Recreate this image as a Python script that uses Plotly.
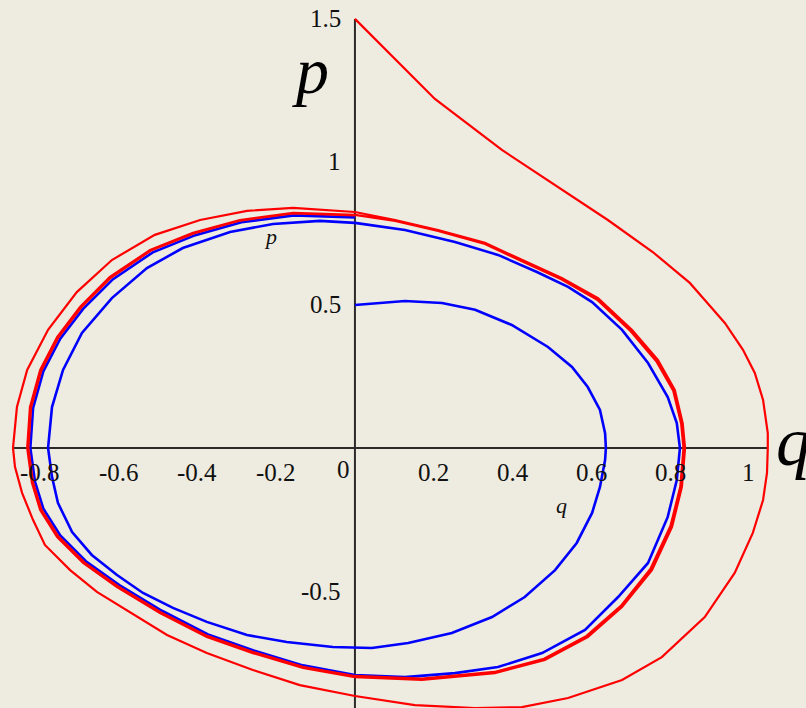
import plotly.graph_objects as go

# Phase-plane trajectories (q, p) of a self-excited oscillator.
# Red trajectory starts outside the limit cycle at (0, 1.5); blue starts inside at (0, 0.5).
red_q = [0.0, 0.203, 0.373, 0.525, 0.642, 0.756, 0.850, 0.888, 0.939, 0.985, 1.015, 1.036, 1.048, 1.048,
         1.046, 1.036, 1.010, 0.964, 0.888, 0.779, 0.678, 0.541, 0.424, 0.305, 0.152, 0.0,
         -0.140, -0.259, -0.376, -0.477, -0.579, -0.655, -0.723, -0.787, -0.817, -0.845, -0.863, -0.868,
         -0.858, -0.832, -0.779, -0.706, -0.617, -0.508, -0.393, -0.274, -0.157, 0.0,
         # second turn
         0.102, 0.211, 0.330, 0.439, 0.525, 0.617, 0.703, 0.769, 0.812, 0.832, 0.838,
         0.830, 0.805, 0.754, 0.678, 0.591, 0.482, 0.355, 0.170, 0.0,
         -0.132, -0.259, -0.376, -0.495, -0.604, -0.690, -0.756, -0.799, -0.820, -0.832,
         -0.825, -0.799, -0.756, -0.698, -0.622, -0.520, -0.411, -0.292, -0.157, 0.0,
         # third turn, settling on the limit cycle
         0.102, 0.211, 0.330, 0.439, 0.525, 0.615, 0.700, 0.765, 0.808, 0.828, 0.834,
         0.826, 0.801, 0.750, 0.675, 0.588, 0.480, 0.354, 0.170, 0.0,
         -0.132, -0.258, -0.375, -0.493, -0.602, -0.687, -0.753, -0.796, -0.817, -0.829,
         -0.822, -0.796, -0.753, -0.695, -0.619, -0.518, -0.409, -0.291, -0.157, 0.0]
red_p = [1.5, 1.220, 1.042, 0.902, 0.797, 0.685, 0.577, 0.517, 0.437, 0.343, 0.262, 0.168, 0.052, 0.0,
         -0.087, -0.182, -0.297, -0.437, -0.591, -0.731, -0.811, -0.874, -0.906, -0.909, -0.899, -0.867,
         -0.829, -0.776, -0.717, -0.654, -0.566, -0.503, -0.427, -0.339, -0.252, -0.157, -0.066, 0.0,
         0.143, 0.273, 0.413, 0.545, 0.657, 0.745, 0.797, 0.829, 0.839, 0.825,
         0.797, 0.762, 0.717, 0.647, 0.594, 0.524, 0.413, 0.308, 0.203, 0.087, 0.0,
         -0.136, -0.276, -0.427, -0.556, -0.661, -0.741, -0.787, -0.811, -0.801,
         -0.769, -0.717, -0.661, -0.577, -0.486, -0.402, -0.311, -0.217, -0.122, 0.0,
         0.143, 0.273, 0.388, 0.493, 0.598, 0.692, 0.752, 0.797, 0.822, 0.815,
         0.794, 0.759, 0.713, 0.643, 0.589, 0.518, 0.408, 0.303, 0.200, 0.086, 0.0,
         -0.135, -0.273, -0.423, -0.552, -0.657, -0.737, -0.783, -0.806, -0.797,
         -0.765, -0.713, -0.657, -0.574, -0.483, -0.400, -0.309, -0.215, -0.121, 0.0,
         0.142, 0.271, 0.386, 0.491, 0.596, 0.690, 0.750, 0.795, 0.820, 0.813]

blue_q = [0.0, 0.127, 0.221, 0.305, 0.398, 0.490, 0.551, 0.591, 0.622, 0.635, 0.637,
          0.635, 0.622, 0.602, 0.563, 0.508, 0.431, 0.348, 0.246, 0.135, 0.043,
          -0.056, -0.173, -0.274, -0.376, -0.462, -0.538, -0.604, -0.668, -0.718, -0.754, -0.769, -0.779,
          -0.769, -0.741, -0.693, -0.617, -0.528, -0.437, -0.317, -0.208, -0.089, 0.0,
          # second turn
          0.127, 0.254, 0.363, 0.462, 0.541, 0.602, 0.678, 0.744, 0.794, 0.817, 0.825,
          0.817, 0.794, 0.744, 0.668, 0.584, 0.475, 0.363, 0.254, 0.127, 0.0,
          -0.132, -0.257, -0.373, -0.490, -0.598, -0.683, -0.748, -0.791, -0.812, -0.824,
          -0.817, -0.791, -0.748, -0.690, -0.614, -0.513, -0.405, -0.288, -0.155, 0.0]
blue_p = [0.5, 0.514, 0.507, 0.483, 0.430, 0.353, 0.283, 0.213, 0.133, 0.052, 0.0,
          -0.042, -0.136, -0.227, -0.332, -0.427, -0.521, -0.591, -0.647, -0.682, -0.699,
          -0.696, -0.678, -0.654, -0.608, -0.559, -0.507, -0.444, -0.374, -0.294, -0.192, -0.101, 0.0,
          0.143, 0.273, 0.402, 0.524, 0.629, 0.699, 0.755, 0.783, 0.794, 0.787,
          0.762, 0.720, 0.675, 0.615, 0.563, 0.510, 0.413, 0.297, 0.178, 0.087, 0.0,
          -0.112, -0.241, -0.402, -0.521, -0.636, -0.717, -0.766, -0.787, -0.801, -0.794,
          -0.760, -0.708, -0.652, -0.569, -0.479, -0.396, -0.306, -0.212, -0.119, 0.0,
          0.140, 0.268, 0.382, 0.486, 0.590, 0.684, 0.744, 0.789, 0.813, 0.806]

x_ticks = [-0.8, -0.6, -0.4, -0.2, 0.2, 0.4, 0.6, 0.8, 1]
x_tick_text = ["-0.8", "-0.6", "-0.4", "-0.2", "0.2", "0.4", "0.6", "0.8", "1"]
y_ticks = [1.5, 1, 0.5, -0.5]
y_tick_text = ["1.5", "1", "0.5", "-0.5"]

BG = "#EEEBE0"
SERIF = "Liberation Serif"
TICK_FONT = dict(family=SERIF, size=25, color="#111111")
X_RANGE = [-0.901, 1.145]
Y_RANGE = [-0.909, 1.566]

fig = go.Figure()
fig.add_trace(go.Scatter(x=blue_q, y=blue_p, mode="lines",
                         line=dict(color="#0000FF", width=2.6), hoverinfo="skip"))
fig.add_trace(go.Scatter(x=red_q, y=red_p, mode="lines",
                         line=dict(color="#FF0000", width=2.2), hoverinfo="skip"))

# Axes crossing at the origin, spanning the extent of the trajectories
q_all = red_q + blue_q
p_all = red_p + blue_p
axis_line = dict(color="#2A2A2A", width=2)
shapes = [
    dict(type="line", xref="x", yref="y", x0=min(q_all), x1=max(q_all), y0=0, y1=0,
         line=axis_line, layer="below"),
    dict(type="line", xref="x", yref="y", x0=0, x1=0, y0=Y_RANGE[0], y1=max(p_all),
         line=axis_line, layer="below"),
]

annotations = []
for v, t in zip(x_ticks, x_tick_text):
    annotations.append(dict(x=v, y=0, xref="x", yref="y", text=t, showarrow=False,
                            xanchor="center", yanchor="middle", yshift=-25,
                            font=TICK_FONT))
annotations.append(dict(x=0, y=0, xref="x", yref="y", text="0", showarrow=False,
                        xanchor="right", yanchor="middle", xshift=-3, yshift=-22,
                        font=TICK_FONT))
for v, t in zip(y_ticks, y_tick_text):
    annotations.append(dict(x=0, y=v, xref="x", yref="y", text=t, showarrow=False,
                            xanchor="right", yanchor="middle", xshift=-12,
                            font=TICK_FONT))

# Axis names: large ones at the axis ends, small ones near the curves
annotations += [
    dict(x=0, y=1.5, xref="x", yref="y", text="<i>p</i>", showarrow=False,
         xanchor="center", yanchor="middle", xshift=-44, yshift=-52,
         font=dict(family=SERIF, size=66, color="#000000")),
    dict(x=max(q_all), y=0, xref="x", yref="y", text="<i>q</i>", showarrow=False,
         xanchor="left", yanchor="middle", xshift=6, yshift=6,
         font=dict(family=SERIF, size=70, color="#000000")),
    dict(x=-0.215, y=0.74, xref="x", yref="y", text="<i>p</i>", showarrow=False,
         xanchor="center", yanchor="middle",
         font=dict(family=SERIF, size=22, color="#111111")),
    dict(x=0.525, y=-0.20, xref="x", yref="y", text="<i>q</i>", showarrow=False,
         xanchor="center", yanchor="middle",
         font=dict(family=SERIF, size=22, color="#111111")),
]

fig.update_layout(
    width=806, height=708,
    margin=dict(l=0, r=0, t=0, b=0),
    paper_bgcolor=BG, plot_bgcolor=BG,
    showlegend=False,
    xaxis=dict(range=X_RANGE, visible=False, showgrid=False, zeroline=False, fixedrange=True),
    yaxis=dict(range=Y_RANGE, visible=False, showgrid=False, zeroline=False, fixedrange=True),
    shapes=shapes,
    annotations=annotations,
)

fig.write_html("out.html")
